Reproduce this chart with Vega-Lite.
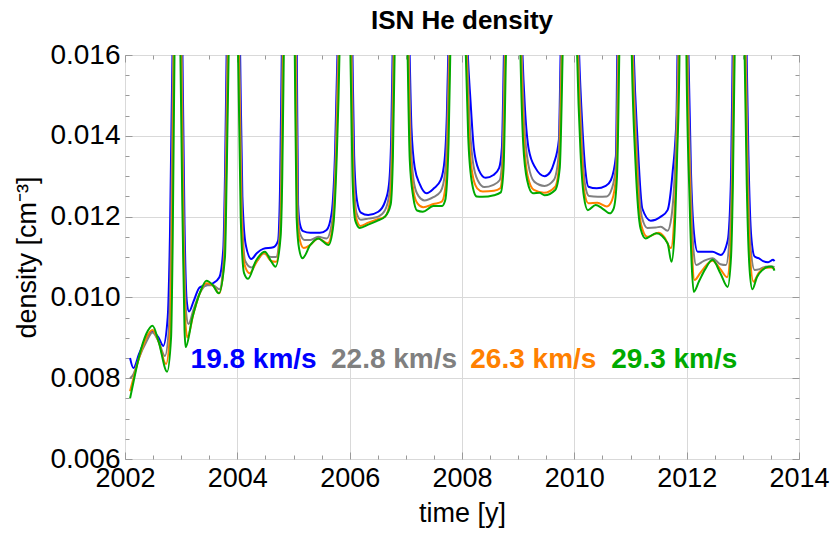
{
"$schema":"https://vega.github.io/schema/vega-lite/v6.json",
"width":674,"height":404,
"autosize":{"type":"none"},
"padding":{"left":125,"top":55,"right":31,"bottom":81},
"title":{"text":"ISN He density","fontSize":26,"fontWeight":"bold","anchor":"middle","offset":7,"color":"black","font":"Liberation Sans"},
"config":{"font":"Liberation Sans","view":{"stroke":"#999999","strokeWidth":1}},
"datasets":{
"labels":[
{"s":"19.8","label":"19.8 km/s","t":2004.29,"d":0.00826},
{"s":"22.8","label":"22.8 km/s","t":2006.79,"d":0.00826},
{"s":"26.3","label":"26.3 km/s","t":2009.27,"d":0.00826},
{"s":"29.3","label":"29.3 km/s","t":2011.78,"d":0.00826}
],
"curves":[
{"s":"19.8","t":2002.09,"d":0.0085},{"s":"19.8","t":2002.15,"d":0.00825},{"s":"19.8","t":2002.25,"d":0.0086},{"s":"19.8","t":2002.38,"d":0.009},{"s":"19.8","t":2002.49,"d":0.00915},{"s":"19.8","t":2002.6,"d":0.009},{"s":"19.8","t":2002.68,"d":0.0088},{"s":"19.8","t":2002.76,"d":0.0095},{"s":"19.8","t":2002.8,"d":0.0115},{"s":"19.8","t":2002.845,"d":0.016},
{"s":"19.8","t":2002.93,"d":0.03},
{"s":"19.8","t":2003.023,"d":0.016},{"s":"19.8","t":2003.06,"d":0.0118},{"s":"19.8","t":2003.1,"d":0.0099},{"s":"19.8","t":2003.14,"d":0.00965},{"s":"19.8","t":2003.22,"d":0.0099},{"s":"19.8","t":2003.33,"d":0.01025},{"s":"19.8","t":2003.45,"d":0.0103},{"s":"19.8","t":2003.565,"d":0.01035},{"s":"19.8","t":2003.68,"d":0.0105},{"s":"19.8","t":2003.75,"d":0.0112},{"s":"19.8","t":2003.78,"d":0.013},{"s":"19.8","t":2003.809,"d":0.016},
{"s":"19.8","t":2003.93,"d":0.03},
{"s":"19.8","t":2004.05,"d":0.016},{"s":"19.8","t":2004.09,"d":0.0125},{"s":"19.8","t":2004.15,"d":0.0113},{"s":"19.8","t":2004.25,"d":0.01095},{"s":"19.8","t":2004.35,"d":0.0111},{"s":"19.8","t":2004.46,"d":0.0112},{"s":"19.8","t":2004.64,"d":0.01124},{"s":"19.8","t":2004.725,"d":0.0114},{"s":"19.8","t":2004.76,"d":0.0127},{"s":"19.8","t":2004.791,"d":0.016},
{"s":"19.8","t":2004.93,"d":0.03},
{"s":"19.8","t":2005.059,"d":0.016},{"s":"19.8","t":2005.082,"d":0.0123},{"s":"19.8","t":2005.112,"d":0.01183},{"s":"19.8","t":2005.17,"d":0.01164},{"s":"19.8","t":2005.3,"d":0.0116},{"s":"19.8","t":2005.47,"d":0.0116},{"s":"19.8","t":2005.59,"d":0.01167},{"s":"19.8","t":2005.68,"d":0.0121},{"s":"19.8","t":2005.74,"d":0.0136},{"s":"19.8","t":2005.782,"d":0.016},
{"s":"19.8","t":2005.92,"d":0.03},
{"s":"19.8","t":2006.05,"d":0.016},{"s":"19.8","t":2006.08,"d":0.0135},{"s":"19.8","t":2006.13,"d":0.0124},{"s":"19.8","t":2006.2,"d":0.0121},{"s":"19.8","t":2006.33,"d":0.01204},{"s":"19.8","t":2006.51,"d":0.01212},{"s":"19.8","t":2006.63,"d":0.01237},{"s":"19.8","t":2006.7,"d":0.0128},{"s":"19.8","t":2006.74,"d":0.014},{"s":"19.8","t":2006.764,"d":0.016},
{"s":"19.8","t":2006.92,"d":0.03},
{"s":"19.8","t":2007.068,"d":0.016},{"s":"19.8","t":2007.1,"d":0.0142},{"s":"19.8","t":2007.16,"d":0.0132},{"s":"19.8","t":2007.25,"d":0.0128},{"s":"19.8","t":2007.37,"d":0.01258},{"s":"19.8","t":2007.5,"d":0.0127},{"s":"19.8","t":2007.62,"d":0.0129},{"s":"19.8","t":2007.69,"d":0.0134},{"s":"19.8","t":2007.73,"d":0.0145},{"s":"19.8","t":2007.755,"d":0.016},
{"s":"19.8","t":2007.92,"d":0.03},
{"s":"19.8","t":2008.104,"d":0.016},{"s":"19.8","t":2008.15,"d":0.0149},{"s":"19.8","t":2008.21,"d":0.0137},{"s":"19.8","t":2008.3,"d":0.01315},{"s":"19.8","t":2008.42,"d":0.01296},{"s":"19.8","t":2008.56,"d":0.01303},{"s":"19.8","t":2008.66,"d":0.0132},{"s":"19.8","t":2008.71,"d":0.0137},{"s":"19.8","t":2008.746,"d":0.016},
{"s":"19.8","t":2008.92,"d":0.03},
{"s":"19.8","t":2009.077,"d":0.016},{"s":"19.8","t":2009.12,"d":0.0147},{"s":"19.8","t":2009.19,"d":0.01365},{"s":"19.8","t":2009.31,"d":0.0132},{"s":"19.8","t":2009.47,"d":0.013},{"s":"19.8","t":2009.57,"d":0.0131},{"s":"19.8","t":2009.636,"d":0.01332},{"s":"19.8","t":2009.725,"d":0.0139},{"s":"19.8","t":2009.755,"d":0.016},
{"s":"19.8","t":2009.92,"d":0.03},
{"s":"19.8","t":2010.086,"d":0.016},{"s":"19.8","t":2010.14,"d":0.0143},{"s":"19.8","t":2010.2,"d":0.0131},{"s":"19.8","t":2010.25,"d":0.01274},{"s":"19.8","t":2010.4,"d":0.0127},{"s":"19.8","t":2010.56,"d":0.01276},{"s":"19.8","t":2010.65,"d":0.0129},{"s":"19.8","t":2010.74,"d":0.0135},{"s":"19.8","t":2010.764,"d":0.016},
{"s":"19.8","t":2010.91,"d":0.03},
{"s":"19.8","t":2011.059,"d":0.016},{"s":"19.8","t":2011.125,"d":0.0139},{"s":"19.8","t":2011.21,"d":0.0122},{"s":"19.8","t":2011.36,"d":0.0119},{"s":"19.8","t":2011.54,"d":0.012},{"s":"19.8","t":2011.66,"d":0.01216},{"s":"19.8","t":2011.75,"d":0.0131},{"s":"19.8","t":2011.82,"d":0.0145},{"s":"19.8","t":2011.836,"d":0.016},
{"s":"19.8","t":2011.93,"d":0.03},
{"s":"19.8","t":2012.032,"d":0.016},{"s":"19.8","t":2012.077,"d":0.0131},{"s":"19.8","t":2012.13,"d":0.0116},{"s":"19.8","t":2012.196,"d":0.01113},{"s":"19.8","t":2012.46,"d":0.01113},{"s":"19.8","t":2012.61,"d":0.01105},{"s":"19.8","t":2012.73,"d":0.0114},{"s":"19.8","t":2012.79,"d":0.013},{"s":"19.8","t":2012.818,"d":0.016},
{"s":"19.8","t":2012.93,"d":0.03},
{"s":"19.8","t":2013.068,"d":0.016},{"s":"19.8","t":2013.1,"d":0.0135},{"s":"19.8","t":2013.15,"d":0.0115},{"s":"19.8","t":2013.21,"d":0.01101},{"s":"19.8","t":2013.28,"d":0.01097},{"s":"19.8","t":2013.36,"d":0.0109},{"s":"19.8","t":2013.45,"d":0.01087},{"s":"19.8","t":2013.54,"d":0.01093},{"s":"19.8","t":2013.564,"d":0.0109},

{"s":"22.8","t":2002.09,"d":0.008},{"s":"22.8","t":2002.15,"d":0.0081},{"s":"22.8","t":2002.25,"d":0.0085},{"s":"22.8","t":2002.38,"d":0.0089},{"s":"22.8","t":2002.49,"d":0.00913},{"s":"22.8","t":2002.6,"d":0.0089},{"s":"22.8","t":2002.71,"d":0.00855},{"s":"22.8","t":2002.78,"d":0.0092},{"s":"22.8","t":2002.82,"d":0.0115},{"s":"22.8","t":2002.857,"d":0.016},
{"s":"22.8","t":2002.93,"d":0.03},
{"s":"22.8","t":2003.011,"d":0.016},{"s":"22.8","t":2003.05,"d":0.0115},{"s":"22.8","t":2003.09,"d":0.0096},{"s":"22.8","t":2003.13,"d":0.00934},{"s":"22.8","t":2003.22,"d":0.0097},{"s":"22.8","t":2003.33,"d":0.0101},{"s":"22.8","t":2003.45,"d":0.0103},{"s":"22.8","t":2003.565,"d":0.0103},{"s":"22.8","t":2003.68,"d":0.0102},{"s":"22.8","t":2003.76,"d":0.011},{"s":"22.8","t":2003.79,"d":0.013},{"s":"22.8","t":2003.821,"d":0.016},
{"s":"22.8","t":2003.93,"d":0.03},
{"s":"22.8","t":2004.038,"d":0.016},{"s":"22.8","t":2004.08,"d":0.0122},{"s":"22.8","t":2004.14,"d":0.0109},{"s":"22.8","t":2004.25,"d":0.01074},{"s":"22.8","t":2004.35,"d":0.0109},{"s":"22.8","t":2004.47,"d":0.01109},{"s":"22.8","t":2004.6,"d":0.011},{"s":"22.8","t":2004.69,"d":0.011},{"s":"22.8","t":2004.75,"d":0.0115},{"s":"22.8","t":2004.78,"d":0.013},{"s":"22.8","t":2004.803,"d":0.016},
{"s":"22.8","t":2004.93,"d":0.03},
{"s":"22.8","t":2005.047,"d":0.016},{"s":"22.8","t":2005.075,"d":0.0122},{"s":"22.8","t":2005.11,"d":0.0116},{"s":"22.8","t":2005.2,"d":0.01142},{"s":"22.8","t":2005.3,"d":0.01142},{"s":"22.8","t":2005.44,"d":0.0115},{"s":"22.8","t":2005.59,"d":0.01146},{"s":"22.8","t":2005.69,"d":0.0119},{"s":"22.8","t":2005.75,"d":0.0135},{"s":"22.8","t":2005.794,"d":0.016},
{"s":"22.8","t":2005.92,"d":0.03},
{"s":"22.8","t":2006.038,"d":0.016},{"s":"22.8","t":2006.07,"d":0.0132},{"s":"22.8","t":2006.12,"d":0.0121},{"s":"22.8","t":2006.2,"d":0.01192},{"s":"22.8","t":2006.33,"d":0.01195},{"s":"22.8","t":2006.51,"d":0.012},{"s":"22.8","t":2006.63,"d":0.01216},{"s":"22.8","t":2006.71,"d":0.0126},{"s":"22.8","t":2006.75,"d":0.0138},{"s":"22.8","t":2006.776,"d":0.016},
{"s":"22.8","t":2006.92,"d":0.03},
{"s":"22.8","t":2007.056,"d":0.016},{"s":"22.8","t":2007.09,"d":0.0138},{"s":"22.8","t":2007.15,"d":0.0128},{"s":"22.8","t":2007.23,"d":0.0125},{"s":"22.8","t":2007.33,"d":0.0124},{"s":"22.8","t":2007.49,"d":0.01248},{"s":"22.8","t":2007.62,"d":0.01262},{"s":"22.8","t":2007.7,"d":0.0131},{"s":"22.8","t":2007.74,"d":0.0143},{"s":"22.8","t":2007.767,"d":0.016},
{"s":"22.8","t":2007.92,"d":0.03},
{"s":"22.8","t":2008.092,"d":0.016},{"s":"22.8","t":2008.13,"d":0.0145},{"s":"22.8","t":2008.19,"d":0.0134},{"s":"22.8","t":2008.28,"d":0.0129},{"s":"22.8","t":2008.4,"d":0.01273},{"s":"22.8","t":2008.55,"d":0.01278},{"s":"22.8","t":2008.67,"d":0.0129},{"s":"22.8","t":2008.72,"d":0.0135},{"s":"22.8","t":2008.758,"d":0.016},
{"s":"22.8","t":2008.92,"d":0.03},
{"s":"22.8","t":2009.065,"d":0.016},{"s":"22.8","t":2009.11,"d":0.0143},{"s":"22.8","t":2009.18,"d":0.0133},{"s":"22.8","t":2009.29,"d":0.01286},{"s":"22.8","t":2009.47,"d":0.01276},{"s":"22.8","t":2009.636,"d":0.01291},{"s":"22.8","t":2009.72,"d":0.0135},{"s":"22.8","t":2009.767,"d":0.016},
{"s":"22.8","t":2009.92,"d":0.03},
{"s":"22.8","t":2010.074,"d":0.016},{"s":"22.8","t":2010.13,"d":0.014},{"s":"22.8","t":2010.19,"d":0.0128},{"s":"22.8","t":2010.26,"d":0.01251},{"s":"22.8","t":2010.42,"d":0.01249},{"s":"22.8","t":2010.58,"d":0.0125},{"s":"22.8","t":2010.67,"d":0.0127},{"s":"22.8","t":2010.745,"d":0.0133},{"s":"22.8","t":2010.776,"d":0.016},
{"s":"22.8","t":2010.91,"d":0.03},
{"s":"22.8","t":2011.047,"d":0.016},{"s":"22.8","t":2011.11,"d":0.0137},{"s":"22.8","t":2011.2,"d":0.012},{"s":"22.8","t":2011.3,"d":0.01172},{"s":"22.8","t":2011.45,"d":0.01173},{"s":"22.8","t":2011.54,"d":0.01175},{"s":"22.8","t":2011.66,"d":0.01165},{"s":"22.8","t":2011.73,"d":0.012},{"s":"22.8","t":2011.8,"d":0.0135},{"s":"22.8","t":2011.848,"d":0.016},
{"s":"22.8","t":2011.93,"d":0.03},
{"s":"22.8","t":2012.02,"d":0.016},{"s":"22.8","t":2012.07,"d":0.0129},{"s":"22.8","t":2012.12,"d":0.0112},{"s":"22.8","t":2012.17,"d":0.0108},{"s":"22.8","t":2012.3,"d":0.0109},{"s":"22.8","t":2012.46,"d":0.01097},{"s":"22.8","t":2012.6,"d":0.01082},{"s":"22.8","t":2012.7,"d":0.0108},{"s":"22.8","t":2012.76,"d":0.0114},{"s":"22.8","t":2012.805,"d":0.013},{"s":"22.8","t":2012.83,"d":0.016},
{"s":"22.8","t":2012.93,"d":0.03},
{"s":"22.8","t":2013.056,"d":0.016},{"s":"22.8","t":2013.09,"d":0.0132},{"s":"22.8","t":2013.14,"d":0.0112},{"s":"22.8","t":2013.21,"d":0.01068},{"s":"22.8","t":2013.3,"d":0.0107},{"s":"22.8","t":2013.4,"d":0.01076},{"s":"22.8","t":2013.5,"d":0.01077},{"s":"22.8","t":2013.564,"d":0.01075},

{"s":"26.3","t":2002.09,"d":0.00768},{"s":"26.3","t":2002.15,"d":0.008},{"s":"26.3","t":2002.25,"d":0.0085},{"s":"26.3","t":2002.38,"d":0.009},{"s":"26.3","t":2002.49,"d":0.00919},{"s":"26.3","t":2002.6,"d":0.0089},{"s":"26.3","t":2002.73,"d":0.00835},{"s":"26.3","t":2002.8,"d":0.0091},{"s":"26.3","t":2002.835,"d":0.0115},{"s":"26.3","t":2002.869,"d":0.016},
{"s":"26.3","t":2002.93,"d":0.03},
{"s":"26.3","t":2002.999,"d":0.016},{"s":"26.3","t":2003.04,"d":0.0115},{"s":"26.3","t":2003.08,"d":0.0093},{"s":"26.3","t":2003.11,"d":0.00901},{"s":"26.3","t":2003.22,"d":0.0096},{"s":"26.3","t":2003.33,"d":0.0101},{"s":"26.3","t":2003.45,"d":0.01035},{"s":"26.3","t":2003.565,"d":0.0103},{"s":"26.3","t":2003.68,"d":0.0101},{"s":"26.3","t":2003.77,"d":0.011},{"s":"26.3","t":2003.8,"d":0.013},{"s":"26.3","t":2003.833,"d":0.016},
{"s":"26.3","t":2003.93,"d":0.03},
{"s":"26.3","t":2004.026,"d":0.016},{"s":"26.3","t":2004.07,"d":0.0122},{"s":"26.3","t":2004.13,"d":0.0108},{"s":"26.3","t":2004.22,"d":0.0106},{"s":"26.3","t":2004.35,"d":0.0109},{"s":"26.3","t":2004.48,"d":0.0111},{"s":"26.3","t":2004.6,"d":0.0109},{"s":"26.3","t":2004.69,"d":0.01088},{"s":"26.3","t":2004.76,"d":0.0115},{"s":"26.3","t":2004.79,"d":0.013},{"s":"26.3","t":2004.815,"d":0.016},
{"s":"26.3","t":2004.93,"d":0.03},
{"s":"26.3","t":2005.035,"d":0.016},{"s":"26.3","t":2005.065,"d":0.0121},{"s":"26.3","t":2005.1,"d":0.0115},{"s":"26.3","t":2005.18,"d":0.01122},{"s":"26.3","t":2005.3,"d":0.0113},{"s":"26.3","t":2005.44,"d":0.01146},{"s":"26.3","t":2005.61,"d":0.01134},{"s":"26.3","t":2005.7,"d":0.0118},{"s":"26.3","t":2005.76,"d":0.0135},{"s":"26.3","t":2005.806,"d":0.016},
{"s":"26.3","t":2005.92,"d":0.03},
{"s":"26.3","t":2006.026,"d":0.016},{"s":"26.3","t":2006.06,"d":0.013},{"s":"26.3","t":2006.11,"d":0.012},{"s":"26.3","t":2006.19,"d":0.01177},{"s":"26.3","t":2006.33,"d":0.01185},{"s":"26.3","t":2006.51,"d":0.01194},{"s":"26.3","t":2006.63,"d":0.012},{"s":"26.3","t":2006.72,"d":0.0124},{"s":"26.3","t":2006.76,"d":0.0136},{"s":"26.3","t":2006.788,"d":0.016},
{"s":"26.3","t":2006.92,"d":0.03},
{"s":"26.3","t":2007.044,"d":0.016},{"s":"26.3","t":2007.08,"d":0.0136},{"s":"26.3","t":2007.14,"d":0.0126},{"s":"26.3","t":2007.21,"d":0.01232},{"s":"26.3","t":2007.31,"d":0.01223},{"s":"26.3","t":2007.49,"d":0.01231},{"s":"26.3","t":2007.64,"d":0.01237},{"s":"26.3","t":2007.71,"d":0.0128},{"s":"26.3","t":2007.75,"d":0.014},{"s":"26.3","t":2007.779,"d":0.016},
{"s":"26.3","t":2007.92,"d":0.03},
{"s":"26.3","t":2008.08,"d":0.016},{"s":"26.3","t":2008.12,"d":0.0142},{"s":"26.3","t":2008.18,"d":0.0131},{"s":"26.3","t":2008.27,"d":0.0127},{"s":"26.3","t":2008.37,"d":0.01262},{"s":"26.3","t":2008.57,"d":0.01264},{"s":"26.3","t":2008.68,"d":0.0127},{"s":"26.3","t":2008.73,"d":0.0133},{"s":"26.3","t":2008.77,"d":0.016},
{"s":"26.3","t":2008.92,"d":0.03},
{"s":"26.3","t":2009.053,"d":0.016},{"s":"26.3","t":2009.1,"d":0.014},{"s":"26.3","t":2009.17,"d":0.013},{"s":"26.3","t":2009.28,"d":0.01266},{"s":"26.3","t":2009.46,"d":0.01259},{"s":"26.3","t":2009.66,"d":0.01274},{"s":"26.3","t":2009.73,"d":0.0133},{"s":"26.3","t":2009.779,"d":0.016},
{"s":"26.3","t":2009.92,"d":0.03},
{"s":"26.3","t":2010.062,"d":0.016},{"s":"26.3","t":2010.12,"d":0.0138},{"s":"26.3","t":2010.18,"d":0.0126},{"s":"26.3","t":2010.25,"d":0.01233},{"s":"26.3","t":2010.41,"d":0.01234},{"s":"26.3","t":2010.58,"d":0.01225},{"s":"26.3","t":2010.67,"d":0.0124},{"s":"26.3","t":2010.75,"d":0.0131},{"s":"26.3","t":2010.788,"d":0.016},
{"s":"26.3","t":2010.91,"d":0.03},
{"s":"26.3","t":2011.035,"d":0.016},{"s":"26.3","t":2011.1,"d":0.0135},{"s":"26.3","t":2011.19,"d":0.0118},{"s":"26.3","t":2011.3,"d":0.0115},{"s":"26.3","t":2011.5,"d":0.0116},{"s":"26.3","t":2011.6,"d":0.0115},{"s":"26.3","t":2011.72,"d":0.01122},{"s":"26.3","t":2011.78,"d":0.012},{"s":"26.3","t":2011.83,"d":0.014},{"s":"26.3","t":2011.86,"d":0.016},
{"s":"26.3","t":2011.93,"d":0.03},
{"s":"26.3","t":2012.008,"d":0.016},{"s":"26.3","t":2012.06,"d":0.0127},{"s":"26.3","t":2012.1,"d":0.011},{"s":"26.3","t":2012.14,"d":0.01043},{"s":"26.3","t":2012.24,"d":0.0106},{"s":"26.3","t":2012.35,"d":0.0108},{"s":"26.3","t":2012.46,"d":0.01091},{"s":"26.3","t":2012.6,"d":0.0107},{"s":"26.3","t":2012.72,"d":0.0105},{"s":"26.3","t":2012.78,"d":0.0112},{"s":"26.3","t":2012.815,"d":0.013},{"s":"26.3","t":2012.842,"d":0.016},
{"s":"26.3","t":2012.93,"d":0.03},
{"s":"26.3","t":2013.044,"d":0.016},{"s":"26.3","t":2013.08,"d":0.013},{"s":"26.3","t":2013.13,"d":0.011},{"s":"26.3","t":2013.19,"d":0.01039},{"s":"26.3","t":2013.28,"d":0.0106},{"s":"26.3","t":2013.38,"d":0.01073},{"s":"26.3","t":2013.5,"d":0.01074},{"s":"26.3","t":2013.564,"d":0.0107},

{"s":"29.3","t":2002.09,"d":0.0075},{"s":"29.3","t":2002.15,"d":0.0079},{"s":"29.3","t":2002.25,"d":0.00853},{"s":"29.3","t":2002.38,"d":0.0091},{"s":"29.3","t":2002.49,"d":0.0093},{"s":"29.3","t":2002.6,"d":0.0089},{"s":"29.3","t":2002.75,"d":0.00816},{"s":"29.3","t":2002.82,"d":0.009},{"s":"29.3","t":2002.85,"d":0.0115},{"s":"29.3","t":2002.881,"d":0.016},
{"s":"29.3","t":2002.93,"d":0.03},
{"s":"29.3","t":2002.987,"d":0.016},{"s":"29.3","t":2003.03,"d":0.0115},{"s":"29.3","t":2003.06,"d":0.0092},{"s":"29.3","t":2003.08,"d":0.00877},{"s":"29.3","t":2003.2,"d":0.0095},{"s":"29.3","t":2003.33,"d":0.0101},{"s":"29.3","t":2003.45,"d":0.01041},{"s":"29.3","t":2003.565,"d":0.0103},{"s":"29.3","t":2003.67,"d":0.0101},{"s":"29.3","t":2003.78,"d":0.011},{"s":"29.3","t":2003.81,"d":0.013},{"s":"29.3","t":2003.845,"d":0.016},
{"s":"29.3","t":2003.93,"d":0.03},
{"s":"29.3","t":2004.014,"d":0.016},{"s":"29.3","t":2004.06,"d":0.012},{"s":"29.3","t":2004.12,"d":0.0106},{"s":"29.3","t":2004.19,"d":0.01046},{"s":"29.3","t":2004.33,"d":0.0109},{"s":"29.3","t":2004.49,"d":0.01113},{"s":"29.3","t":2004.6,"d":0.0109},{"s":"29.3","t":2004.68,"d":0.01076},{"s":"29.3","t":2004.77,"d":0.0115},{"s":"29.3","t":2004.8,"d":0.013},{"s":"29.3","t":2004.827,"d":0.016},
{"s":"29.3","t":2004.93,"d":0.03},
{"s":"29.3","t":2005.023,"d":0.016},{"s":"29.3","t":2005.055,"d":0.012},{"s":"29.3","t":2005.1,"d":0.0112},{"s":"29.3","t":2005.16,"d":0.01097},{"s":"29.3","t":2005.3,"d":0.0113},{"s":"29.3","t":2005.44,"d":0.01146},{"s":"29.3","t":2005.625,"d":0.0113},{"s":"29.3","t":2005.71,"d":0.0118},{"s":"29.3","t":2005.77,"d":0.0135},{"s":"29.3","t":2005.818,"d":0.016},
{"s":"29.3","t":2005.92,"d":0.03},
{"s":"29.3","t":2006.014,"d":0.016},{"s":"29.3","t":2006.05,"d":0.013},{"s":"29.3","t":2006.1,"d":0.0119},{"s":"29.3","t":2006.18,"d":0.01172},{"s":"29.3","t":2006.33,"d":0.0118},{"s":"29.3","t":2006.48,"d":0.01189},{"s":"29.3","t":2006.63,"d":0.012},{"s":"29.3","t":2006.73,"d":0.0123},{"s":"29.3","t":2006.77,"d":0.0135},{"s":"29.3","t":2006.8,"d":0.016},
{"s":"29.3","t":2006.92,"d":0.03},
{"s":"29.3","t":2007.032,"d":0.016},{"s":"29.3","t":2007.07,"d":0.0134},{"s":"29.3","t":2007.13,"d":0.0125},{"s":"29.3","t":2007.2,"d":0.01215},{"s":"29.3","t":2007.3,"d":0.01212},{"s":"29.3","t":2007.49,"d":0.01226},{"s":"29.3","t":2007.64,"d":0.01226},{"s":"29.3","t":2007.7,"d":0.0124},{"s":"29.3","t":2007.76,"d":0.0138},{"s":"29.3","t":2007.791,"d":0.016},
{"s":"29.3","t":2007.92,"d":0.03},
{"s":"29.3","t":2008.068,"d":0.016},{"s":"29.3","t":2008.11,"d":0.014},{"s":"29.3","t":2008.17,"d":0.0129},{"s":"29.3","t":2008.26,"d":0.0125},{"s":"29.3","t":2008.36,"d":0.01249},{"s":"29.3","t":2008.57,"d":0.01253},{"s":"29.3","t":2008.69,"d":0.0126},{"s":"29.3","t":2008.74,"d":0.0132},{"s":"29.3","t":2008.782,"d":0.016},
{"s":"29.3","t":2008.92,"d":0.03},
{"s":"29.3","t":2009.041,"d":0.016},{"s":"29.3","t":2009.09,"d":0.0138},{"s":"29.3","t":2009.16,"d":0.0129},{"s":"29.3","t":2009.26,"d":0.01258},{"s":"29.3","t":2009.38,"d":0.01259},{"s":"29.3","t":2009.47,"d":0.01253},{"s":"29.3","t":2009.66,"d":0.01266},{"s":"29.3","t":2009.74,"d":0.0132},{"s":"29.3","t":2009.791,"d":0.016},
{"s":"29.3","t":2009.92,"d":0.03},
{"s":"29.3","t":2010.05,"d":0.016},{"s":"29.3","t":2010.11,"d":0.0136},{"s":"29.3","t":2010.17,"d":0.0125},{"s":"29.3","t":2010.24,"d":0.01216},{"s":"29.3","t":2010.38,"d":0.01229},{"s":"29.3","t":2010.5,"d":0.0122},{"s":"29.3","t":2010.63,"d":0.01208},{"s":"29.3","t":2010.7,"d":0.0122},{"s":"29.3","t":2010.76,"d":0.013},{"s":"29.3","t":2010.8,"d":0.016},
{"s":"29.3","t":2010.91,"d":0.03},
{"s":"29.3","t":2011.023,"d":0.016},{"s":"29.3","t":2011.09,"d":0.0133},{"s":"29.3","t":2011.18,"d":0.0117},{"s":"29.3","t":2011.27,"d":0.01146},{"s":"29.3","t":2011.46,"d":0.01159},{"s":"29.3","t":2011.66,"d":0.01134},{"s":"29.3","t":2011.73,"d":0.01088},{"s":"29.3","t":2011.78,"d":0.0115},{"s":"29.3","t":2011.83,"d":0.0135},{"s":"29.3","t":2011.872,"d":0.016},
{"s":"29.3","t":2011.93,"d":0.03},
{"s":"29.3","t":2011.996,"d":0.016},{"s":"29.3","t":2012.05,"d":0.0125},{"s":"29.3","t":2012.09,"d":0.0108},{"s":"29.3","t":2012.125,"d":0.01014},{"s":"29.3","t":2012.22,"d":0.0104},{"s":"29.3","t":2012.33,"d":0.0107},{"s":"29.3","t":2012.46,"d":0.01093},{"s":"29.3","t":2012.6,"d":0.0106},{"s":"29.3","t":2012.73,"d":0.01026},{"s":"29.3","t":2012.79,"d":0.011},{"s":"29.3","t":2012.825,"d":0.013},{"s":"29.3","t":2012.854,"d":0.016},
{"s":"29.3","t":2012.93,"d":0.03},
{"s":"29.3","t":2013.032,"d":0.016},{"s":"29.3","t":2013.07,"d":0.0128},{"s":"29.3","t":2013.12,"d":0.0107},{"s":"29.3","t":2013.17,"d":0.0102},{"s":"29.3","t":2013.25,"d":0.0105},{"s":"29.3","t":2013.35,"d":0.01068},{"s":"29.3","t":2013.46,"d":0.01076},{"s":"29.3","t":2013.52,"d":0.01076},{"s":"29.3","t":2013.564,"d":0.01066}
]},
"layer":[
{"data":{"name":"curves"},
 "mark":{"type":"line","interpolate":"monotone","clip":true,"strokeWidth":2},
 "encoding":{
  "x":{"field":"t","type":"quantitative","scale":{"domain":[2002,2014],"nice":false,"zero":false},
   "axis":{"orient":"bottom","title":"time [y]","values":[2002,2002.5,2003,2003.5,2004,2004.5,2005,2005.5,2006,2006.5,2007,2007.5,2008,2008.5,2009,2009.5,2010,2010.5,2011,2011.5,2012,2012.5,2013,2013.5,2014],
    "labelExpr":"datum.value % 2 == 0 ? format(datum.value,'d') : ''",
    "tickSize":{"condition":{"test":"datum.value % 2 == 0","value":-7},"value":-4},
    "grid":true,"gridColor":"#d9d9d9","gridWidth":1,
    "gridOpacity":{"condition":{"test":"datum.value % 2 == 0","value":1},"value":0},
    "domain":false,"tickColor":"#999999","labelColor":"black","labelFontSize":27,"labelPadding":13,"labelOverlap":false,"labelFlush":false,
    "titleFontSize":27,"titleFontWeight":"normal","titleColor":"black","titlePadding":6}},
  "y":{"field":"d","type":"quantitative","scale":{"domain":[0.006,0.016],"nice":false,"zero":false},
   "axis":{"orient":"left","title":"density [cm⁻³]","values":[0.006,0.0065,0.007,0.0075,0.008,0.0085,0.009,0.0095,0.01,0.0105,0.011,0.0115,0.012,0.0125,0.013,0.0135,0.014,0.0145,0.015,0.0155,0.016],
    "labelExpr":"round(datum.value*2000) % 4 == 0 ? format(datum.value,'.3f') : ''",
    "tickSize":{"condition":{"test":"round(datum.value*2000) % 4 == 0","value":-7},"value":-4},
    "grid":true,"gridColor":"#d9d9d9","gridWidth":1,
    "gridOpacity":{"condition":{"test":"round(datum.value*2000) % 4 == 0","value":1},"value":0},
    "domain":false,"tickColor":"#999999","labelColor":"black","labelFontSize":28,"labelPadding":12,"labelOverlap":false,"labelFlush":false,
    "titleFontSize":27,"titleFontWeight":"normal","titleColor":"black","titlePadding":8}},
  "color":{"field":"s","type":"nominal","scale":{"domain":["19.8","22.8","26.3","29.3"],"range":["#0000ff","#808080","#ff8000","#00aa00"]},"legend":null}
 }},
{"data":{"name":"labels"},
 "mark":{"type":"text","fontSize":28,"fontWeight":"bold","baseline":"alphabetic","align":"center"},
 "encoding":{
  "x":{"field":"t","type":"quantitative","scale":{"domain":[2002,2014],"nice":false,"zero":false},
   "axis":{"orient":"top","title":null,"labels":false,"grid":false,"domain":false,"tickColor":"#999999",
    "values":[2002,2002.5,2003,2003.5,2004,2004.5,2005,2005.5,2006,2006.5,2007,2007.5,2008,2008.5,2009,2009.5,2010,2010.5,2011,2011.5,2012,2012.5,2013,2013.5,2014],
    "tickSize":{"condition":{"test":"datum.value % 2 == 0","value":-7},"value":-4}}},
  "y":{"field":"d","type":"quantitative","scale":{"domain":[0.006,0.016],"nice":false,"zero":false},
   "axis":{"orient":"right","title":null,"labels":false,"grid":false,"domain":false,"tickColor":"#999999",
    "values":[0.006,0.0065,0.007,0.0075,0.008,0.0085,0.009,0.0095,0.01,0.0105,0.011,0.0115,0.012,0.0125,0.013,0.0135,0.014,0.0145,0.015,0.0155,0.016],
    "tickSize":{"condition":{"test":"round(datum.value*2000) % 4 == 0","value":-7},"value":-4}}},
  "text":{"field":"label"},
  "color":{"field":"s","type":"nominal","scale":{"domain":["19.8","22.8","26.3","29.3"],"range":["#0000ff","#808080","#ff8000","#00aa00"]},"legend":null}
 }}
],
"resolve":{"axis":{"x":"independent","y":"independent"}}
}
